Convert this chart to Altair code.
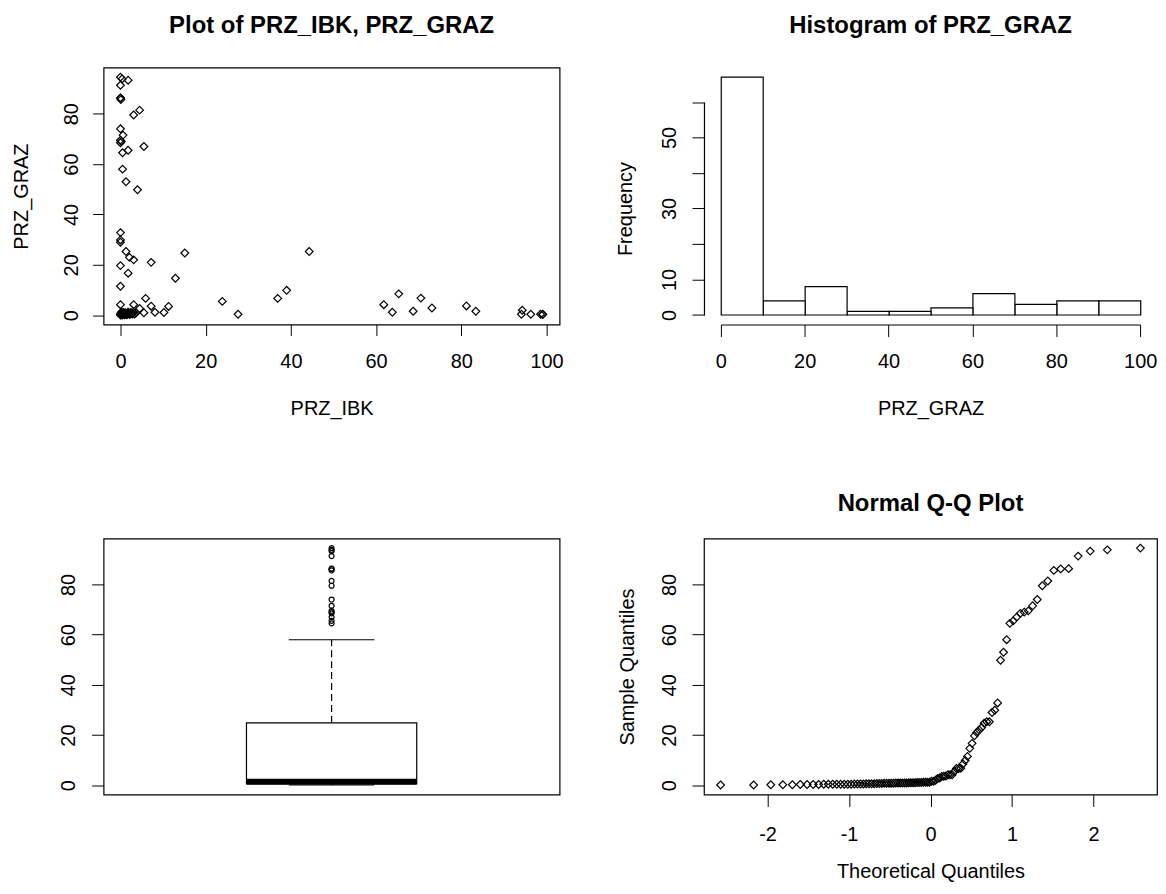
import altair as alt
import pandas as pd

# ---------------- data ----------------
# 100 paired observations (PRZ_IBK, PRZ_GRAZ)
prz_ibk = [
    # points with PRZ_GRAZ above 10
    0.0, 0.4, 1.8, 0.0, 0.0, 0.0, 0.1, 4.5, 3.1, 0.0, 0.6, 0.0, 0.2, 0.0, 5.5, 1.8, 0.5,
    0.5, 1.3, 4.0, 0.0, 0.0, 0.0, 1.3, 15.1, 44.3, 2.1, 3.1, 7.2, 0.0, 1.8, 12.9, 0.0,
    # low points spread along PRZ_IBK
    36.9, 23.9, 27.6, 5.9, 3.1, 7.2, 11.3, 10.2, 8.1, 4.5, 5.5, 0.0, 39.0, 61.8, 63.8,
    65.3, 68.7, 70.5, 73.1, 81.2, 83.4, 94.3, 94.1, 96.3, 98.6, 99.1, 99.1,
    # dense cluster near the origin
    0.1, 0.2, 0.3, 0.5, 0.6, 0.8, 1.0, 1.2, 1.5, 1.8, 2.0, 2.2, 2.5, 2.8, 3.0, 0.0, 0.4,
    0.7, 0.9, 1.1, 1.3, 1.6, 2.1, 2.4, 3.3, 0.2, 0.5, 0.1, 0.3, 0.6, 1.4, 1.9, 2.6, 0.0,
    0.8, 1.7, 3.6, 0.4, 1.0, 2.3,
]
prz_graz = [
    94.5, 93.8, 93.3, 91.3, 86.3, 86.2, 85.6, 81.4, 79.5, 74.0, 71.5, 69.5, 69.0, 68.5, 67.0, 65.5, 64.5,
    58.0, 53.0, 49.8, 32.8, 29.9, 29.0, 25.3, 24.7, 25.3, 23.0, 22.0, 21.0, 19.7, 16.7, 14.7, 11.5,
    6.7, 5.5, 0.4, 6.7, 4.2, 3.6, 3.5, 1.1, 1.2, 2.7, 1.0, 4.2, 9.9, 4.2, 1.2,
    8.5, 1.6, 6.8, 2.9, 3.7, 1.6, 2.0, 0.4, 0.4, 0.4, 0.4, 0.3,
    0.2, 0.5, 0.9, 0.3, 1.0, 0.8, 0.4, 0.9, 0.6, 1.2, 0.9, 0.3, 1.0, 0.5, 1.1, 0.1, 0.7,
    0.8, 0.2, 0.8, 0.4, 0.9, 0.6, 0.9, 0.5, 1.2, 0.7, 0.3, 0.8, 0.6, 0.2, 1.0, 0.7, 0.5,
    1.1, 0.4, 0.9, 0.1, 0.6, 0.8,
]

ibk_ticks = [0, 20, 40, 60, 80, 100]
graz_ticks = [0, 20, 40, 60, 80]
hist_x_ticks = [0, 20, 40, 60, 80, 100]
hist_y_ticks = [0, 10, 20, 30, 40, 50, 60]
hist_y_labelled = [0, 10, 30, 50]
qq_x_ticks = [-2, -1, 0, 1, 2]

df = pd.DataFrame({"PRZ_IBK": prz_ibk, "PRZ_GRAZ": prz_graz, "grp": "PRZ_GRAZ"})
hist_axis_df = pd.DataFrame({"t": hist_y_ticks})

FONT = "Liberation Sans"
GRAZ_DOM = [-3.68, 98.28]
IBK_DOM = [-3.96, 103.06]
QQ_DOM = [-2.78, 2.78]

# histogram panel: R-style plot region padded by 4% around the data range
HW, HH = 455, 258
HX_LO, HX_HI = -4.0, 104.0
HY_LO, HY_HI = -2.68, 69.68
hx = lambda v: (v - HX_LO) / (HX_HI - HX_LO) * HW
hy = lambda v: HH - (v - HY_LO) / (HY_HI - HY_LO) * HH


def axis(values, orient, title=None, tick=12, lpad=15, tpad=20, **kw):
    d = dict(values=values, orient=orient, domain=False, grid=False, ticks=True,
             tickSize=tick, tickColor="black", tickWidth=1,
             labelFont=FONT, labelFontSize=20, labelColor="black", labelPadding=lpad,
             labelFlush=False, labelOverlap=False,
             titleFont=FONT, titleFontSize=20, titleFontWeight="normal",
             titleColor="black", titlePadding=tpad, title=title)
    if orient == "left":
        d.update(labelAngle=270, labelAlign="center", labelBaseline="bottom")
    d.update(kw)
    return alt.Axis(**d)


def ttl(text, offset):
    return alt.TitleParams(text=text, font=FONT, fontSize=24, fontWeight="bold",
                           color="black", offset=offset, baseline="alphabetic",
                           anchor="middle", frame="group")


frame = alt.ViewBackground(stroke="black", strokeWidth=1.2)

# ---- 1. scatter ----
scatter = alt.Chart(df).mark_point(shape="diamond", filled=False, color="black",
                                   size=60, strokeWidth=1.2, opacity=1).encode(
    x=alt.X("PRZ_IBK:Q", scale=alt.Scale(domain=IBK_DOM, nice=False, zero=False),
            axis=axis(ibk_ticks, "bottom", "PRZ_IBK", tick=11, lpad=16, tpad=27)),
    y=alt.Y("PRZ_GRAZ:Q", scale=alt.Scale(domain=GRAZ_DOM, nice=False, zero=False),
            axis=axis(graz_ticks, "left", "PRZ_GRAZ", tick=11, lpad=11, tpad=30)),
).properties(width=458, height=258, title=ttl("Plot of PRZ_IBK, PRZ_GRAZ", 11), view=frame)

# ---- 2. histogram ----
bars = alt.Chart(df).mark_bar(color="white", stroke="black", strokeWidth=1.2,
                              binSpacing=0, opacity=1).encode(
    x=alt.X("PRZ_GRAZ:Q", bin=alt.Bin(extent=[0, 100], step=10),
            scale=alt.Scale(domain=[0, 100], nice=False, range=[hx(0), hx(100)]),
            axis=axis(hist_x_ticks, "bottom", "PRZ_GRAZ", tick=12, lpad=15, tpad=27,
                      domain=True, domainColor="black", domainWidth=1.2)),
    y=alt.Y("count():Q", scale=alt.Scale(domain=[0, HY_HI], nice=False, range=[hy(0), 0]),
            axis=None),
)
shown = ",".join(str(v) for v in hist_y_labelled)
hist_axis = alt.Chart(hist_axis_df).mark_point(opacity=0).encode(
    y=alt.Y("t:Q", scale=alt.Scale(domain=[0, 60], nice=False, zero=False,
                                   range=[hy(0), hy(60)]),
            axis=axis(hist_y_ticks, "left", "Frequency", tick=12, lpad=13, tpad=24,
                      domain=True, domainColor="black", domainWidth=1.2,
                      labelExpr=f"indexof([{shown}], datum.value) >= 0 ? datum.label : ''")),
)
hist = alt.layer(bars, hist_axis).resolve_scale(y="independent").properties(
    width=HW, height=HH, title=ttl("Histogram of PRZ_GRAZ", 11))

# ---- 3. boxplot ----
box = alt.Chart(df).mark_boxplot(
    extent=1.5, size=171,
    box={"color": "white", "stroke": "black", "strokeWidth": 1.2, "opacity": 1},
    median={"color": "black", "thickness": 6, "opacity": 1},
    rule={"color": "black", "strokeDash": [7, 4], "strokeWidth": 1.2, "opacity": 1},
    ticks={"color": "black", "size": 86, "opacity": 1},
    outliers={"color": "black", "filled": False, "shape": "circle", "size": 25,
              "strokeWidth": 1.2, "opacity": 1},
).encode(
    x=alt.X("grp:N", axis=None),
    y=alt.Y("PRZ_GRAZ:Q", scale=alt.Scale(domain=GRAZ_DOM, nice=False, zero=False),
            axis=axis(graz_ticks, "left", None, tick=12, lpad=13)),
).properties(width=458, height=257, view=frame)

# ---- 4. normal Q-Q ----
qq = alt.Chart(df).transform_window(
    rank="row_number()", sort=[alt.SortField("PRZ_GRAZ", order="ascending")]
).transform_joinaggregate(n="count()").transform_calculate(
    theo="quantileNormal((datum.rank - 0.5) / datum.n)"
).mark_point(shape="diamond", filled=False, color="black", size=60,
             strokeWidth=1.2, opacity=1).encode(
    x=alt.X("theo:Q", scale=alt.Scale(domain=QQ_DOM, nice=False, zero=False),
            axis=axis(qq_x_ticks, "bottom", "Theoretical Quantiles", tick=12, lpad=18, tpad=17,
                      labelExpr="datum.value < 0 ? '-' + abs(datum.value) : '' + datum.value")),
    y=alt.Y("PRZ_GRAZ:Q", scale=alt.Scale(domain=GRAZ_DOM, nice=False, zero=False),
            axis=axis(graz_ticks, "left", "Sample Quantiles", tick=12, lpad=13, tpad=22)),
).properties(width=455, height=257, title=ttl("Normal Q-Q Plot", 4), view=frame)

chart = alt.concat(
    scatter, hist, box, qq, columns=2,
    spacing=alt.RowColnumber(row=215, column=145), bounds="flush",
).properties(
    padding={"left": 3, "top": 3, "right": 0, "bottom": 0}
).configure(background="white").configure_view(stroke="transparent")

chart.save("out.html", embed_options={"renderer": "svg", "actions": False})
